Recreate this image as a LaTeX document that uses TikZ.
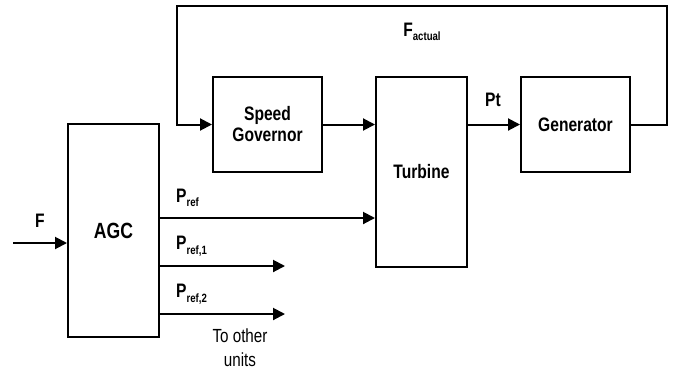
\documentclass[tikz,border=0pt]{standalone}
\usepackage{fontspec}
\setmainfont{Liberation Sans}[FakeStretch=0.8]
\usepackage{tikz}
\usetikzlibrary{arrows.meta}

\newcommand{\lowtxt}[1]{\raisebox{-.45ex}{\fontsize{12}{12}\selectfont #1}}

\begin{document}
\begin{tikzpicture}[
  x=1pt, y=-1pt,
  font=\fontsize{19.5}{21}\selectfont\bfseries,
  block/.style={draw, line width=2pt, align=center, inner sep=2pt},
  arr/.style={-{Triangle[length=12pt, width=12pt]}, line width=2pt},
  lbl/.style={inner sep=0pt}
]
\useasboundingbox (0,0) rectangle (677,373);

\node[block, minimum width=91pt, minimum height=213pt,
      font=\fontsize{22}{24}\selectfont\bfseries] (agc) at (113.5,230.5) {AGC};
\node[block, minimum width=109pt, minimum height=95pt] (gov) at (267.5,124.5) {Speed\\Governor};
\node[block, minimum width=91pt, minimum height=190pt] (turb) at (421.5,172) {Turbine};
\node[block, minimum width=109pt, minimum height=95pt] (gen) at (575.5,124.5) {Generator};

% free ends
\coordinate (fin) at (13,243);
\coordinate (pref) at (0,218);
\coordinate (out1) at (285,266);
\coordinate (out2) at (285,314);
\coordinate (fbR) at (667,6);
\coordinate (fbL) at (177,6);

\draw[arr] (fin) -- (fin -| agc.west);
\draw[arr] (pref -| agc.east) -- (pref -| turb.west);
\draw[arr] (out1 -| agc.east) -- (out1);
\draw[arr] (out2 -| agc.east) -- (out2);
\draw[arr] (gov) -- (gov -| turb.west);
\draw[arr] (gov -| turb.east) -- (gen);
\draw[arr] (gen.east) -| (fbR) -- (fbL) |- (gov.west);

% labels
\node[lbl] (fl) at (40,221) {F};
\node[lbl] (fact) at (422,32) {F\lowtxt{actual}};
\node[lbl] (pt) at (493,100) {Pt};
\node[lbl, anchor=west] (pl0) at (176,198) {P\lowtxt{ref}};
\node[lbl, anchor=west] (pl1) at (176,246) {P\lowtxt{ref,1}};
\node[lbl, anchor=west] (pl2) at (176,294) {P\lowtxt{ref,2}};
\node[lbl, align=center, font=\fontsize{19}{24}\selectfont] (oth) at (240,348) {To other\\units};

\end{tikzpicture}
\end{document}
